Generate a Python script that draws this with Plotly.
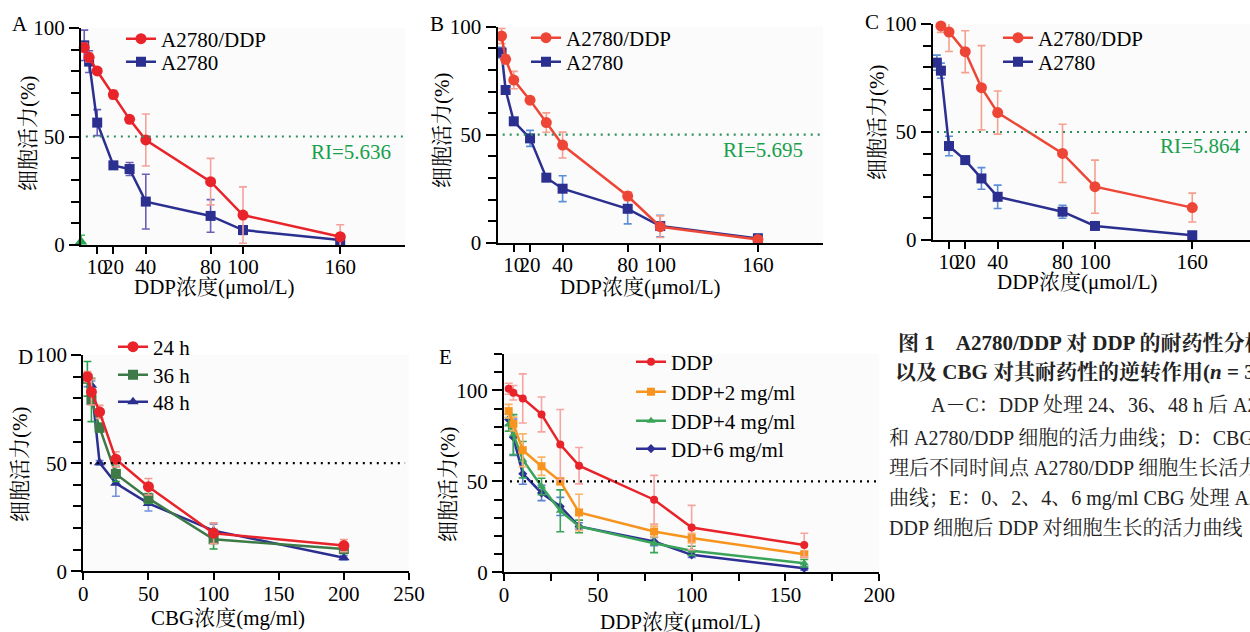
import plotly.graph_objects as go

W, H = 1250, 632
SERIF = "Liberation Serif, Noto Serif CJK SC, Noto Sans CJK SC, serif"

# ---------------- data ----------------
# Panel A
A_x = [2, 5, 10, 20, 30, 40, 80, 100, 160]
A_res = [91, 86.5, 80.2, 69.3, 57.9, 48.4, 29.2, 13.8, 3.8]
A_res_err = [2, 2, 1.5, 2, 1.5, 12, 10.7, 13, 5.5]
A_par = [92, 84.5, 56.4, 36.7, 35, 20, 13.4, 6.9, 2.3]
A_par_err = [7, 5, 6, 1, 3, 12.6, 7.5, 2, 1.5]
A_ctrl_x = [0]
A_ctrl = [1.5]
A_ctrl_err = [3]

# Panel B
B_x = [2.5, 5, 10, 20, 30, 40, 80, 100, 160]
B_res = [95.7, 84.9, 75.3, 66, 55.6, 45.2, 21.6, 7.4, 1.5]
B_res_err = [3.5, 2, 4, 1.5, 4.5, 6, 2, 5, 1]
B_par = [88, 70.7, 56.2, 48.3, 30.1, 25, 15.7, 7.7, 2]
B_par_err = [2.5, 1, 1, 3.7, 1, 6, 7, 5, 2]

# Panel C
C_res_x = [5, 10, 20, 30, 40, 80, 100, 160]
C_res = [99.1, 96.3, 87.2, 70.5, 59, 40.1, 24.7, 15]
C_res_err = [3, 9, 9.7, 19.5, 10, 13.5, 12.3, 6.7]
C_par_x = [2.5, 5, 10, 20, 30, 40, 80, 100, 160]
C_par = [82.1, 78.4, 43.5, 37, 28.5, 20, 13.1, 6.5, 2.2]
C_par_err = [3.5, 3.5, 4.5, 1, 5, 5.4, 3, 1, 1]

# Panel D
D_x = [3.125, 6.25, 12.5, 25, 50, 100, 200]
D_24 = [90, 82.9, 73.7, 51.8, 39.1, 17.6, 11.9]
D_24_err = [2.3, 6, 3, 3.5, 3.8, 4.8, 2.8]
D_36 = [89, 79.2, 66.4, 45, 33.7, 14.8, 10.3]
D_36_err = [8, 10, 2, 3.5, 2.3, 4.5, 2]
D_48 = [88.4, 86, 50.2, 40.7, 31.4, 18.8, 6.3]
D_48_err = [3, 2, 1, 6, 3.5, 3, 1]

# Panel E
E_x = [2.5, 5, 10, 20, 30, 40, 80, 100, 160]
E_ddp = [100.9, 98.7, 95.6, 86.8, 70.2, 58.6, 39.9, 24.6, 15]
E_ddp_err = [3, 4, 13.5, 9.6, 19.3, 10, 13.4, 12.2, 6.5]
E_2 = [88.6, 81.6, 67.1, 58.3, 50, 32.9, 22.4, 18.8, 9.9]
E_2_err = [3.7, 3.7, 9, 5, 1.8, 10, 3, 2.6, 1.5]
E_4 = [81.3, 75.7, 61.9, 47.2, 33.8, 25.2, 16, 11.8, 5]
E_4_err = [3.7, 11, 10, 4.5, 11.5, 3.5, 5.2, 2.5, 2]
E_6 = [84, 74.3, 54.2, 43.6, 36.2, 25.2, 16.9, 9.6, 2.2]
E_6_err = [3, 10, 5.8, 4.2, 5, 2, 2.3, 1.5, 1]

ABC_ticks = [10, 20, 40, 80, 100, 160]
D_ticks = [0, 50, 100, 150, 200, 250]
E_ticks = [0, 50, 100, 150, 200]
Y_ticks = [0, 50, 100]
HALF = 50
RI = ["RI=5.636", "RI=5.695", "RI=5.864"]

# ---------------- layout helpers ----------------
def fx(p):
    return p / W


def fy(p):
    return 1 - p / H


# panel boxes in pixels: (left, right), (top, bottom)
BOX = {
    1: ((81, 405), (28, 245)),
    2: ((497.5, 823), (26.7, 242.7)),
    3: ((932.8, 1250), (24, 240)),
    4: ((83.3, 409), (355, 571.3)),
    5: ((504, 879.3), (354, 572.3)),
}
XR = {1: [0, 200], 2: [0, 200], 3: [0, 195.6], 4: [0, 250], 5: [0, 200]}
YR = {1: [0, 100], 2: [0, 100], 3: [0, 100], 4: [0, 100], 5: [0, 120]}

fig = go.Figure()

RED = "#e8232a"
RED2 = "#ee4636"
NAVY = "#2b2f8f"


def add(panel, x, y, err, name, color, ecolor, symbol, size, legend=None, lw=2.5):
    fig.add_trace(go.Scatter(
        x=x, y=y, name=name, mode="lines+markers",
        line=dict(color=color, width=lw),
        marker=dict(symbol=symbol, size=size, color=color, line=dict(width=0)),
        error_y=dict(type="data", array=err, visible=True, color=ecolor,
                     thickness=1.6, width=4),
        xaxis="x" if panel == 1 else f"x{panel}",
        yaxis="y" if panel == 1 else f"y{panel}",
        legend=legend if legend else "legend",
        showlegend=legend is not None,
        cliponaxis=False,
    ))


# Panel A
add(1, A_ctrl_x, A_ctrl, A_ctrl_err, "ctrl", "#1fa84a", "#36c060", "triangle-up", 11)
add(1, A_x, A_par, A_par_err, "A2780", NAVY, "#6a60b8", "square", 10, "legend2")
add(1, A_x, A_res, A_res_err, "A2780/DDP", RED, "#f5a29c", "circle", 11, "legend")
# Panel B
add(2, B_x, B_par, B_par_err, "A2780", NAVY, "#5b8fd9", "square", 10, "legend4")
add(2, B_x, B_res, B_res_err, "A2780/DDP", RED2, "#f4a08f", "circle", 11, "legend3")
# Panel C
add(3, C_par_x, C_par, C_par_err, "A2780", NAVY, "#5b8fd9", "square", 10, "legend6")
add(3, C_res_x, C_res, C_res_err, "A2780/DDP", RED2, "#f4a08f", "circle", 11, "legend5")
# Panel D
add(4, D_x, D_48, D_48_err, "48 h", NAVY, "#7391da", "triangle-up", 10, "legend9")
add(4, D_x, D_36, D_36_err, "36 h", "#3d7a47", "#2a9f4a", "square", 10, "legend8")
add(4, D_x, D_24, D_24_err, "24 h", RED, "#f29c90", "circle", 11, "legend7")
# Panel E
add(5, E_x, E_6, E_6_err, "DD+6 mg/ml", "#2e2f96", "#5b7fd6", "diamond", 7, "legend13")
add(5, E_x, E_4, E_4_err, "DDP+4 mg/ml", "#3aa45a", "#3aa45a", "triangle-up", 8, "legend12")
add(5, E_x, E_2, E_2_err, "DDP+2 mg/ml", "#f7941d", "#f9b46a", "square", 8, "legend11")
add(5, E_x, E_ddp, E_ddp_err, "DDP", RED, "#f6a5a0", "circle", 8, "legend10")

axis_common = dict(showline=True, linecolor="black", linewidth=2, ticks="outside",
                   tickwidth=2, tickcolor="black", showgrid=False, zeroline=False,
                   tickfont=dict(family=SERIF, size=21, color="black"), tickangle=0,
                   fixedrange=True, automargin=False)

layout = dict(width=W, height=H, margin=dict(l=0, r=0, t=0, b=0, pad=0, autoexpand=False),
              paper_bgcolor="white", plot_bgcolor="#fbfbfb",
              font=dict(family=SERIF, color="black"))

for p in range(1, 6):
    (l, r), (t, b) = BOX[p]
    xk = "xaxis" if p == 1 else f"xaxis{p}"
    yk = "yaxis" if p == 1 else f"yaxis{p}"
    if p <= 3:
        xt = ABC_ticks
        xminor = None
    elif p == 4:
        xt = D_ticks
        xminor = None
    else:
        xt = E_ticks
        xminor = dict(dtick=25, tick0=0, ticks="outside", ticklen=7, tickwidth=2,
                      tickcolor="black", showgrid=False)
    xa = dict(axis_common, domain=[fx(l), fx(r)], range=XR[p], tickvals=xt,
              ticklen=7, ticklabelstandoff=-5, anchor="y" if p == 1 else f"y{p}")
    if xminor:
        xa["minor"] = xminor
    ya = dict(axis_common, domain=[fy(b), fy(t)], range=YR[p], tickvals=Y_ticks,
              ticklen=10, anchor="x" if p == 1 else f"x{p}",
              minor=dict(dtick=10, tick0=0, ticks="outside", ticklen=8, tickwidth=2,
                         tickcolor="black", showgrid=False))
    layout[xk] = xa
    layout[yk] = ya

# legends: (name, text start px, row center px)
LEG = {
    "legend": (163, 39), "legend2": (163, 62),
    "legend3": (568, 38), "legend4": (568, 62),
    "legend5": (1040, 38), "legend6": (1040, 62),
    "legend7": (155, 347), "legend8": (155, 375), "legend9": (155, 402),
    "legend10": (673, 362), "legend11": (673, 392), "legend12": (673, 421), "legend13": (673, 449),
}
for k, (tx, ty) in LEG.items():
    layout[k] = dict(x=fx(tx - 42), y=fy(ty), xanchor="left", yanchor="middle",
                     bgcolor="rgba(255,255,255,0)", borderwidth=0, itemwidth=30,
                     font=dict(family=SERIF, size=21, color="black"))

fig.update_layout(**layout)

# 50% reference lines
GREEN_DOT = "#2f8f5f"
for p, x0, x1, col in [(1, 3, 200, GREEN_DOT), (2, 3.2, 200, GREEN_DOT), (3, 2.6, 195.6, GREEN_DOT),
                       (4, 5, 247, "black"), (5, 3.2, 200, "black")]:
    fig.add_shape(type="line", x0=x0, x1=x1, y0=HALF, y1=HALF,
                  xref="x" if p == 1 else f"x{p}", yref="y" if p == 1 else f"y{p}",
                  line=dict(color=col, width=2.2, dash="2px,5px"))

ann = []


def text(x, y, s, size=21, color="black", xanchor="center", angle=0, yanchor="middle"):
    ann.append(dict(x=fx(x), y=fy(y), xref="paper", yref="paper", text=s, showarrow=False,
                    xanchor=xanchor, yanchor=yanchor, textangle=angle,
                    font=dict(family=SERIF, size=size, color=color)))


# panel letters
for s, x, y in [("A", 20, 24), ("B", 437, 24), ("C", 872, 22), ("D", 25, 357), ("E", 445, 357)]:
    text(x, y, s, size=21)

# axis titles
YT = "细胞活力(%)"
text(28, 134, YT, angle=-90)
text(442, 131, YT, angle=-90)
text(877, 123, YT, angle=-90)
text(20, 465, YT, angle=-90)
text(448, 485, YT, angle=-90)
text(215, 287, "DDP浓度(μmol/L)")
text(640, 287, "DDP浓度(μmol/L)")
text(1077, 282, "DDP浓度(μmol/L)")
text(228, 618, "CBG浓度(mg/ml)")
text(681, 622, "DDP浓度(μmol/L)")

# RI labels
RI_GREEN = "#17a04c"
text(351, 152, RI[0], color=RI_GREEN)
text(763, 150, RI[1], color=RI_GREEN)
text(1200, 146, RI[2], color=RI_GREEN)

# caption
CAP = [
    (896, 343, "<b>图 1　A2780/DDP 对 DDP 的耐药性分析</b>", 21),
    (893, 372, "<b>以及 CBG 对其耐药性的逆转作用(<i>n</i> = 3)</b>", 21),
    (929, 405, "A－C：DDP 处理 24、36、48 h 后 A2780", 20),
    (887, 438, "和 A2780/DDP 细胞的活力曲线；D：CBG 处", 20),
    (887, 468, "理后不同时间点 A2780/DDP 细胞生长活力", 20),
    (887, 498, "曲线；E：0、2、4、6 mg/ml CBG 处理 A2780/", 20),
    (887, 528, "DDP 细胞后 DDP 对细胞生长的活力曲线", 20),
]
for x, y, s, sz in CAP:
    text(x, y, s, size=sz, color="#222", xanchor="left")

fig.update_layout(annotations=ann)
fig.write_html("out.html", config={"displayModeBar": False},
               post_script="document.body.style.margin='0';document.body.style.overflow='hidden';")
